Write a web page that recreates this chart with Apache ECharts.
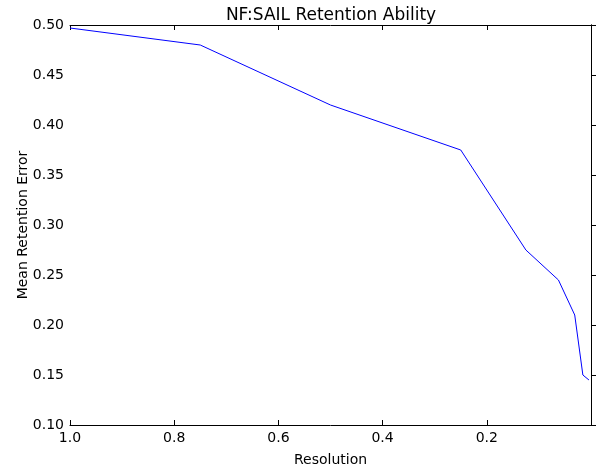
<!DOCTYPE html>
<html><head><meta charset="utf-8">
<script src="https://cdn.jsdelivr.net/npm/echarts@6/dist/echarts.min.js"></script>
<style>html,body{margin:0;padding:0;background:#fff}#c{width:597px;height:467px}</style>
</head><body><div id="c"></div>
<script>
const resolution = [1.0, 0.75, 0.5, 0.25, 0.125, 0.0625, 0.03125, 0.015625, 0.0039];
const retentionError = [0.497, 0.48, 0.42, 0.375, 0.275, 0.245, 0.21, 0.15, 0.145];
const title = 'NF:SAIL Retention Ability';
const xName = 'Resolution';
const yName = 'Mean Retention Error';

const font = 'DejaVu Sans';
const chart = echarts.init(document.getElementById('c'));
const tickIn = {show: true, inside: true, length: 5, lineStyle: {color: '#000', width: 1}};
const tickOpp = {show: true, inside: false, length: 5, lineStyle: {color: '#000', width: 1}};
const axLine = {show: true, lineStyle: {color: '#000', width: 1}};
chart.setOption({
  animation: false,
  title: {text: title, left: 326, textAlign: 'center', top: 2, textStyle: {fontFamily: font, fontSize: 17, fontWeight: 'normal', color: '#000'}},
  grid: {left: 70, right: 6, top: 25, bottom: 42, containLabel: false, outerBoundsMode: 'none'},
  xAxis: [{
    type: 'value', inverse: true, min: 0, max: 1, interval: 0.2,
    name: xName, nameLocation: 'middle', nameGap: 28, nameMoveOverlap: false,
    nameTextStyle: {fontFamily: font, fontSize: 14, color: '#000'},
    axisLine: axLine, axisTick: tickIn, splitLine: {show: false},
    axisLabel: {fontFamily: font, fontSize: 14, color: '#000', margin: 6,
      formatter: v => v === 0 ? '' : v.toFixed(1)}
  }, {
    type: 'value', inverse: true, min: 0, max: 1, interval: 0.2, position: 'top',
    axisLine: axLine, axisTick: tickIn, splitLine: {show: false}, axisLabel: {show: false}
  }],
  yAxis: [{
    type: 'value', min: 0.1, max: 0.5, interval: 0.05,
    name: yName, nameLocation: 'middle', nameGap: 40, nameMoveOverlap: false,
    nameTextStyle: {fontFamily: font, fontSize: 14, color: '#000'},
    axisLine: axLine, axisTick: tickIn, splitLine: {show: false},
    axisLabel: {fontFamily: font, fontSize: 14, color: '#000', margin: 6, formatter: v => v.toFixed(2)}
  }, {
    type: 'value', min: 0.1, max: 0.5, interval: 0.05, position: 'right',
    axisLine: axLine, axisTick: tickOpp, splitLine: {show: false}, axisLabel: {show: false}
  }],
  series: [{
    type: 'line', data: resolution.map((x, i) => [x, retentionError[i]]),
    showSymbol: false, lineStyle: {color: '#0000ff', width: 1}, clip: true
  }]
});
</script></body></html>
